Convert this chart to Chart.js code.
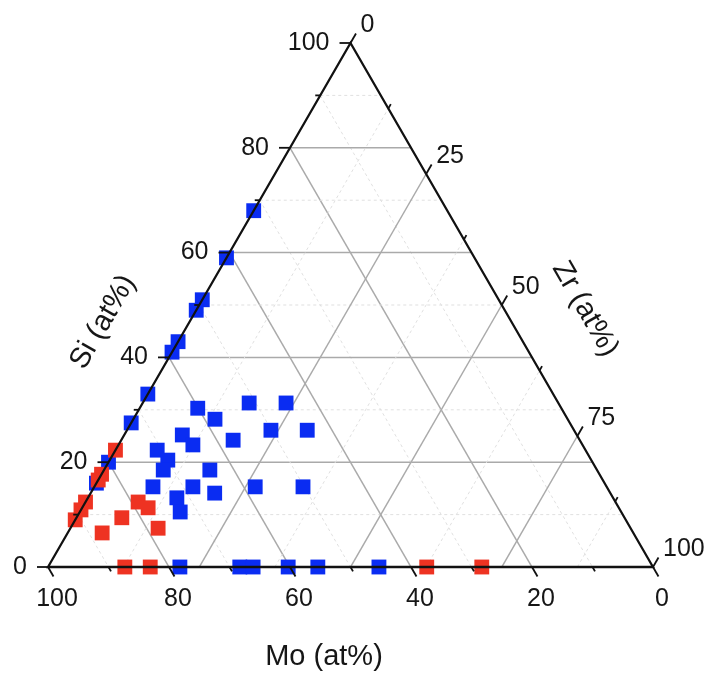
<!DOCTYPE html>
<html>
<head>
<meta charset="utf-8">
<script src="https://cdn.jsdelivr.net/npm/chart.js@4.4.1/dist/chart.umd.min.js"></script>
<style>
  body { margin: 0; background: #fff; }
  canvas { display: block; }
</style>
</head>
<body>
<canvas id="myChart" width="709" height="673"></canvas>
<script>
"use strict";

// compositions in at%, Mo = 100 - Si - Zr
const blueSi = [68, 59, 51, 49, 43, 41, 33, 27.5, 20, 16,
  30.3, 28.2, 24.2, 25.2, 23.3, 22.3, 20.4, 18.5, 15.3, 18.5,
  15.3, 14.1, 13.2, 10.5, 31.3, 31.3, 26.1, 26.1, 15.3, 15.3,
  0, 0, 0, 0, 0, 0];
const blueZr = [0, 0, 0, 0, 0, 0, 0, 0, 0, 0,
  9.6, 13.5, 18.5, 9.6, 12.3, 6.9, 9.6, 9.8, 9.7, 17.5,
  16.3, 20.5, 14.7, 16.6, 17.6, 23.7, 23.8, 29.8, 26.6, 34.5,
  21.8, 31.7, 33.9, 39.7, 44.6, 54.7];

const redSi = [22.3, 17.7, 16.6, 12.4, 10.9, 9,
  12.4, 11.3, 9.4, 7.4, 6.5,
  0, 0, 0, 0];
const redZr = [0, 0, 0, 0, 0, 0,
  8.7, 10.9, 7.5, 14.5, 5.7,
  12.7, 16.9, 62.6, 71.7];

const siTicks = [0, 20, 40, 60, 80, 100];
const moTicks = [100, 80, 60, 40, 20, 0];
const zrTicks = [0, 25, 50, 75, 100];

const H = Math.sqrt(3) / 2;
const toXY = (si, zr) => ({ x: zr + si / 2, y: si * H });

const bluePts = blueSi.map((s, i) => toXY(s, blueZr[i]));
const redPts = redSi.map((s, i) => toXY(s, redZr[i]));

const FONT = '"Liberation Sans", Arial, sans-serif';

const ternaryFrame = {
  id: 'ternaryFrame',
  beforeDatasetsDraw(chart) {
    const { ctx, scales: { x, y } } = chart;
    const px = (si, zr) => [x.getPixelForValue(zr + si / 2), y.getPixelForValue(si * H)];
    const seg = (a, b) => {
      ctx.beginPath();
      ctx.moveTo(a[0], a[1]);
      ctx.lineTo(b[0], b[1]);
      ctx.stroke();
    };
    const style = (major) => {
      if (major) {
        ctx.strokeStyle = '#aaaaaa';
        ctx.lineWidth = 1.5;
        ctx.setLineDash([]);
      } else {
        ctx.strokeStyle = '#e0e0e0';
        ctx.lineWidth = 1;
        ctx.setLineDash([3, 3]);
      }
    };
    ctx.save();
    for (let v = 10; v < 100; v += 10) {
      style(v % 20 === 0);
      seg(px(v, 0), px(v, 100 - v));        // Si = v
      seg(px(100 - v, 0), px(0, 100 - v));  // Mo = v
    }
    for (let v = 12.5; v < 100; v += 12.5) {
      style(v % 25 === 0);
      seg(px(0, v), px(100 - v, v));        // Zr = v
    }
    ctx.restore();
  },
  afterDatasetsDraw(chart) {
    const { ctx, scales: { x, y } } = chart;
    const px = (si, zr) => [x.getPixelForValue(zr + si / 2), y.getPixelForValue(si * H)];
    const line = (a, dx, dy) => {
      ctx.beginPath();
      ctx.moveTo(a[0], a[1]);
      ctx.lineTo(a[0] + dx, a[1] + dy);
      ctx.stroke();
    };
    ctx.save();
    ctx.strokeStyle = '#111';
    ctx.lineWidth = 2.3;
    ctx.setLineDash([]);
    const L = px(0, 0), R = px(0, 100), T = px(100, 0);
    ctx.beginPath();
    ctx.moveTo(L[0], L[1]);
    ctx.lineTo(R[0], R[1]);
    ctx.lineTo(T[0], T[1]);
    ctx.closePath();
    ctx.stroke();

    // ticks
    ctx.lineWidth = 1.8;
    for (let v = 0; v <= 100; v += 10) {
      const len = v % 20 === 0 ? 11 : 5;
      line(px(v, 0), -len, 0);                          // Si, left edge
      line(px(0, 100 - v), len * 0.5, len * H);          // Mo, bottom edge
    }
    for (let v = 0; v <= 100; v += 12.5) {
      const len = v % 25 === 0 ? 11 : 5;
      line(px(100 - v, v), len * 0.5, -len * H);         // Zr, right edge
    }

    // tick labels
    ctx.fillStyle = '#161616';
    ctx.font = '25px ' + FONT;
    ctx.textBaseline = 'middle';
    ctx.textAlign = 'right';
    siTicks.forEach(v => {
      const p = px(v, 0);
      ctx.fillText(String(v), p[0] - 21, p[1]);
    });
    ctx.textAlign = 'center';
    moTicks.forEach(v => {
      const p = px(0, 100 - v);
      ctx.fillText(String(v), p[0] + 9, p[1] + 32);
    });
    ctx.textAlign = 'left';
    zrTicks.forEach(v => {
      const p = px(100 - v, v);
      ctx.fillText(String(v), p[0] + 10, p[1] - 18);
    });

    // axis titles
    ctx.font = '29px ' + FONT;
    ctx.textAlign = 'center';
    ctx.fillText('Mo (at%)', 324, 657);
    ctx.save();
    ctx.translate(103, 322);
    ctx.rotate(-Math.PI / 3);
    ctx.fillText('Si (at%)', 0, 0);
    ctx.restore();
    ctx.save();
    ctx.translate(585, 309);
    ctx.rotate(Math.PI / 3);
    ctx.fillText('Zr (at%)', 0, 0);
    ctx.restore();
    ctx.restore();
  }
};

const ctx = document.getElementById('myChart').getContext('2d');
const myChart = new Chart(ctx, {
  type: 'scatter',
  data: {
    datasets: [{
      label: 'blue',
      data: bluePts,
      pointStyle: 'rect',
      pointRadius: 10.5,
      pointHoverRadius: 10.5,
      borderWidth: 0,
      backgroundColor: '#0a2cf2',
      clip: false,
      order: 2
    }, {
      label: 'red',
      data: redPts,
      pointStyle: 'rect',
      pointRadius: 10.5,
      pointHoverRadius: 10.5,
      borderWidth: 0,
      backgroundColor: '#ee3322',
      clip: false,
      order: 1
    }]
  },
  options: {
    responsive: false,
    animation: false,
    devicePixelRatio: 1,
    layout: { padding: { left: 48, right: 56, top: 43, bottom: 106 } },
    plugins: {
      legend: { display: false },
      tooltip: { enabled: false }
    },
    scales: {
      x: { type: 'linear', min: 0, max: 100, display: false },
      y: { type: 'linear', min: 0, max: 100 * H, display: false }
    }
  },
  plugins: [ternaryFrame]
});
</script>
</body>
</html>
